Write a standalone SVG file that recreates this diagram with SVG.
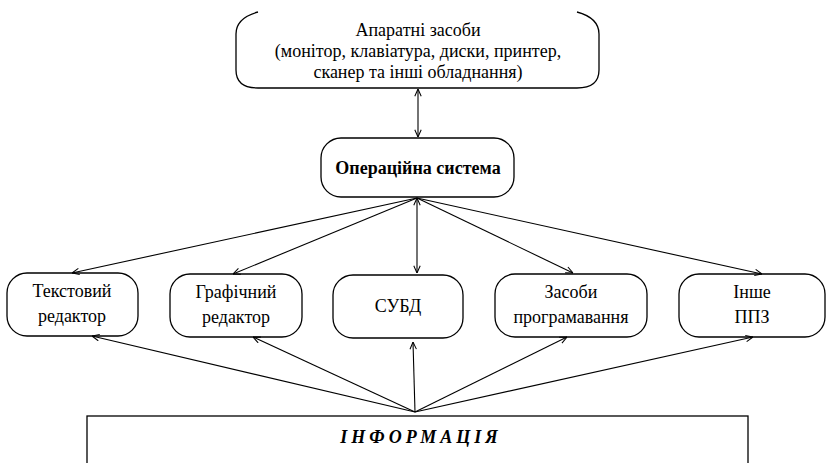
<svg xmlns="http://www.w3.org/2000/svg" width="829" height="463" viewBox="0 0 829 463">
<style>
.box{fill:#fff;stroke:#000;stroke-width:1.3}
.t{font-size:18px;fill:#000;text-anchor:middle}
.b{font-weight:bold}
.c{stroke:#000;stroke-width:1.1;fill:none}
</style>
<defs>
<marker id="ah" viewBox="0 0 10 10" refX="10" refY="5" markerWidth="8" markerHeight="8" orient="auto-start-reverse" markerUnits="userSpaceOnUse">
<path d="M1,1 L10,5 L1,9" fill="none" stroke="#000" stroke-width="1.3"/>
</marker>
</defs>
<rect width="829" height="463" fill="#fff"/>
<g font-family="Liberation Serif, DejaVu Serif, serif">
<g id="hardware">
<path class="box" d="M258,12 Q236,18 236,34 L236,70 Q236,88 258,88 L577,88 Q599,88 599,70 L599,34 Q599,18 577,12"/>
<text class="t" x="418" y="36">Апаратні засоби</text>
<text class="t" x="418" y="57">(монітор, клавіатура, диски, принтер,</text>
<text class="t" x="418" y="78">сканер та інші обладнання)</text>
</g>
<g id="os">
<rect class="box" x="321" y="138" width="193" height="59" rx="20" ry="20"/>
<text class="t b" x="418" y="174">Операційна система</text>
</g>
<g id="text-editor">
<rect class="box" x="7" y="273" width="131" height="63" rx="20" ry="20"/>
<text class="t" x="72" y="297">Текстовий</text>
<text class="t" x="72" y="322">редактор</text>
</g>
<g id="graphic-editor">
<rect class="box" x="170" y="274" width="132" height="63" rx="20" ry="20"/>
<text class="t" x="236" y="298">Графічний</text>
<text class="t" x="236" y="323">редактор</text>
</g>
<g id="dbms">
<rect class="box" x="333" y="275" width="130" height="63" rx="20" ry="20"/>
<text class="t" x="398" y="312">СУБД</text>
</g>
<g id="programming">
<rect class="box" x="495" y="274" width="152" height="63" rx="20" ry="20"/>
<text class="t" x="571" y="298">Засоби</text>
<text class="t" x="571" y="323">програмавання</text>
</g>
<g id="other">
<rect class="box" x="679" y="274" width="146" height="63" rx="20" ry="20"/>
<text class="t" x="752" y="298">Інше</text>
<text class="t" x="752" y="323">ППЗ</text>
</g>
<g id="info">
<rect class="box" x="87" y="416" width="661" height="60"/>
<text class="t b" x="421" y="443" font-style="italic" letter-spacing="4">ІНФОРМАЦІЯ</text>
</g>
</g>
<g id="connectors">
<line class="c" x1="418" y1="137" x2="418" y2="89" marker-start="url(#ah)" marker-end="url(#ah)"/>
<line class="c" x1="417" y1="198" x2="417" y2="273" marker-start="url(#ah)" marker-end="url(#ah)"/>
<line class="c" x1="417" y1="198" x2="72" y2="273" marker-end="url(#ah)"/>
<line class="c" x1="417" y1="198" x2="233" y2="274" marker-end="url(#ah)"/>
<line class="c" x1="417" y1="198" x2="573" y2="273" marker-end="url(#ah)"/>
<line class="c" x1="417" y1="198" x2="762" y2="274" marker-end="url(#ah)"/>
<line class="c" x1="415" y1="412" x2="413" y2="342" marker-end="url(#ah)"/>
<line class="c" x1="415" y1="412" x2="92" y2="336" marker-end="url(#ah)"/>
<line class="c" x1="415" y1="412" x2="253" y2="337" marker-end="url(#ah)"/>
<line class="c" x1="415" y1="412" x2="567" y2="337" marker-end="url(#ah)"/>
<line class="c" x1="415" y1="412" x2="753" y2="337" marker-end="url(#ah)"/>
</g>
</svg>
